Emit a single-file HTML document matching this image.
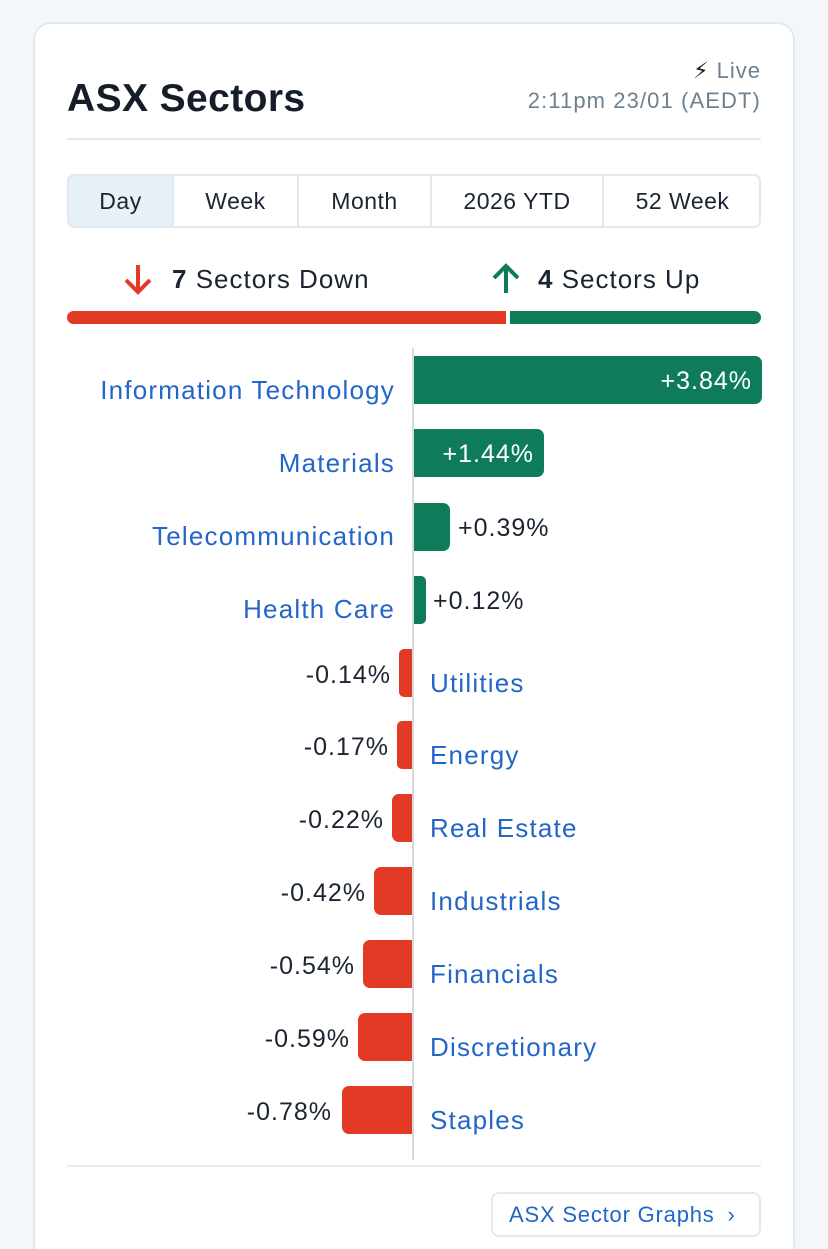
<!DOCTYPE html>
<html><head><meta charset="utf-8"><style>
*{margin:0;padding:0;box-sizing:border-box}
html{width:828px;height:1249px;overflow:hidden}
body{width:828px;height:1249px;background:#f4f7fa;font-family:"Liberation Sans",sans-serif;position:relative;overflow:hidden;color:#1b2430}
.card{position:absolute;left:33px;top:22px;width:762px;height:1240px;background:#fff;border:2px solid #e1e9f1;border-radius:18px}
.a{position:absolute;white-space:nowrap}
.lbl{position:absolute;font-size:26px;letter-spacing:1.2px;color:#2466c8;white-space:nowrap;line-height:30px}
.val{position:absolute;font-size:25px;letter-spacing:1px;color:#1b2430;white-space:nowrap;line-height:30px}
.bar{position:absolute;height:48px}
.g{background:#0e7c5a;border-radius:0 7px 7px 0}
.r{background:#e23a25;border-radius:7px 0 0 7px}
.tab{position:absolute;top:174px;height:54px;font-size:23px;letter-spacing:0.5px;line-height:54px;text-align:center;border-left:2px solid #e1e9f1}
</style></head><body>
<div class="card"></div>
<div class="a" style="left:67px;top:77px;font-size:39px;letter-spacing:0.4px;font-weight:bold;color:#151d2b">ASX Sectors</div>
<div class="a" style="right:67px;top:58px;font-size:22px;letter-spacing:1px;color:#6d8090"><span style="color:#151d2b">&#9889;&#xFE0E;</span> Live</div>
<div class="a" style="right:67px;top:88px;font-size:22px;letter-spacing:1.1px;color:#6d8090">2:11pm 23/01 (AEDT)</div>
<div class="a" style="left:67px;top:138px;width:694px;height:2px;background:#e1e9f1"></div>
<div class="a" style="left:67px;top:174px;width:694px;height:54px;border:2px solid #e1e9f1;border-radius:7px"></div>
<div class="tab" style="left:67px;width:105px;background:#e8f0f8;border:2px solid #e1e9f1;border-right:none;border-radius:7px 0 0 7px;line-height:50px">Day</div>
<div class="tab" style="left:172px;width:125px;line-height:54px">Week</div>
<div class="tab" style="left:297px;width:133px">Month</div>
<div class="tab" style="left:430px;width:172px">2026 YTD</div>
<div class="tab" style="left:602px;width:159px">52 Week</div>
<svg class="a" style="left:121px;top:262px" width="34" height="34" viewBox="0 0 34 34"><path d="M17 3V30M5 18L17 30L29 18" stroke="#e23a25" stroke-width="4" fill="none"/></svg>
<div class="a" style="left:172px;top:264px;font-size:26px;letter-spacing:1px"><b>7</b> Sectors Down</div>
<svg class="a" style="left:489px;top:262px" width="34" height="34" viewBox="0 0 34 34"><path d="M17 31V4M5 16L17 4L29 16" stroke="#0e7c5a" stroke-width="4" fill="none"/></svg>
<div class="a" style="left:538px;top:264px;font-size:26px;letter-spacing:1px"><b>4</b> Sectors Up</div>
<div class="a" style="left:67px;top:311px;width:439px;height:13px;background:#e23a25;border-radius:7px 0 0 7px"></div>
<div class="a" style="left:510px;top:311px;width:251px;height:13px;background:#0e7c5a;border-radius:0 7px 7px 0"></div>
<div class="a" style="left:412px;top:348px;width:2px;height:812px;background:#d6d9dd"></div>

<div class="bar g" style="left:414px;top:356px;width:348px"></div>
<div class="val" style="right:76px;top:366px;color:#fff">+3.84%</div>
<div class="lbl" style="right:433px;top:375px">Information Technology</div>

<div class="bar g" style="left:414px;top:429px;width:130px"></div>
<div class="val" style="right:294px;top:439px;color:#fff">+1.44%</div>
<div class="lbl" style="right:433px;top:448px">Materials</div>

<div class="bar g" style="left:414px;top:503px;width:36px"></div>
<div class="val" style="left:458px;top:513px">+0.39%</div>
<div class="lbl" style="right:433px;top:521px">Telecommunication</div>

<div class="bar g" style="left:414px;top:576px;width:12px;border-radius:0 5px 5px 0"></div>
<div class="val" style="left:433px;top:586px">+0.12%</div>
<div class="lbl" style="right:433px;top:594px">Health Care</div>

<div class="bar r" style="left:399px;top:649px;width:13px;border-radius:5px 0 0 5px"></div>
<div class="val" style="right:437px;top:660px">-0.14%</div>
<div class="lbl" style="left:430px;top:668px">Utilities</div>

<div class="bar r" style="left:397px;top:721px;width:15px;border-radius:5px 0 0 5px"></div>
<div class="val" style="right:439px;top:732px">-0.17%</div>
<div class="lbl" style="left:430px;top:740px">Energy</div>

<div class="bar r" style="left:392px;top:794px;width:20px"></div>
<div class="val" style="right:444px;top:805px">-0.22%</div>
<div class="lbl" style="left:430px;top:813px">Real Estate</div>

<div class="bar r" style="left:374px;top:867px;width:38px"></div>
<div class="val" style="right:462px;top:878px">-0.42%</div>
<div class="lbl" style="left:430px;top:886px">Industrials</div>

<div class="bar r" style="left:363px;top:940px;width:49px"></div>
<div class="val" style="right:473px;top:951px">-0.54%</div>
<div class="lbl" style="left:430px;top:959px">Financials</div>

<div class="bar r" style="left:358px;top:1013px;width:54px"></div>
<div class="val" style="right:478px;top:1024px">-0.59%</div>
<div class="lbl" style="left:430px;top:1032px">Discretionary</div>

<div class="bar r" style="left:342px;top:1086px;width:70px"></div>
<div class="val" style="right:496px;top:1097px">-0.78%</div>
<div class="lbl" style="left:430px;top:1105px">Staples</div>

<div class="a" style="left:67px;top:1165px;width:694px;height:2px;background:#e6eef4"></div>
<div class="a" style="left:491px;top:1192px;width:270px;height:45px;border:2px solid #e1e9f1;border-radius:8px;font-size:22px;letter-spacing:0.8px;color:#2466c8;line-height:41px;padding-left:16px">ASX Sector Graphs <span style="margin-left:6px">&#8250;</span></div>
</body></html>
